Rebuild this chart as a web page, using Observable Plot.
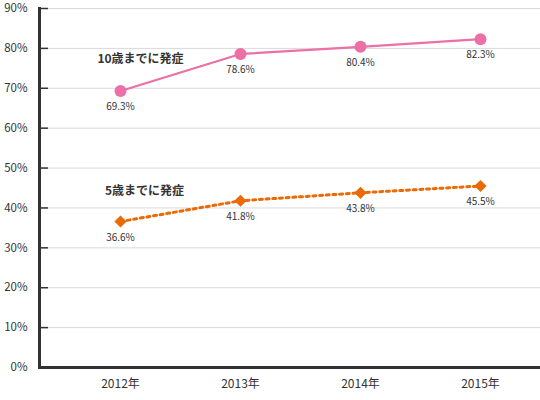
<!DOCTYPE html>
<html>
<head>
<meta charset="utf-8">
<script src="https://cdn.jsdelivr.net/npm/d3@7"></script>
<script src="https://cdn.jsdelivr.net/npm/@observablehq/plot@0.6"></script>
<style>
  body { margin: 0; background: #fff; }
  #grafico svg { display: block; }
</style>
</head>
<body>
<div id="grafico"></div>
<script>
// datos
const anios = ["2012年", "2013年", "2014年", "2015年"];
const hasta10 = [69.3, 78.6, 80.4, 82.3];
const hasta5 = [36.6, 41.8, 43.8, 45.5];
const yTicks = [0, 10, 20, 30, 40, 50, 60, 70, 80, 90];

const rosa = "#ec6fa6";
const naranja = "#ec6a05";
const fuente = "'Noto Sans CJK JP', 'Noto Sans', sans-serif";

let datos10 = anios.map((a, i) => ({anio: a, valor: hasta10[i]}));
let datos5 = anios.map((a, i) => ({anio: a, valor: hasta5[i]}));

let chart = Plot.plot({
    width: 540,
    height: 400,
    marginTop: 8,
    marginBottom: 33,
    marginLeft: 39,
    marginRight: 0,
    style: {fontFamily: fuente, fontSize: 11, color: "#333"},
    x: {type: "point", domain: anios, range: [120, 480], padding: 0, label: null},
    y: {domain: [0, 90], label: null},
    marks: [
        Plot.gridY(yTicks, {stroke: "#d9d9d9", strokeOpacity: 1, strokeWidth: 1}),
        // marcas cortas hacia adentro
        Plot.ruleY(yTicks, {stroke: "#333", strokeWidth: 1.5, insetRight: 492}),
        Plot.axisY(yTicks, {tickSize: 0, tickPadding: 12, tickFormat: d => d + "%", fontSize: 11.5, label: null}),
        Plot.frame({anchor: "left", stroke: "#333", strokeWidth: 3}),
        Plot.ruleY([0], {stroke: "#333", strokeWidth: 3}),
        Plot.axisX({tickSize: 0, tickPadding: 12, fontSize: 12, label: null}),

        // 10歳までに発症
        Plot.line(datos10, {x: "anio", y: "valor", stroke: rosa, strokeWidth: 2.2}),
        Plot.dot(datos10, {x: "anio", y: "valor", r: 6, fill: rosa}),
        Plot.text(datos10, {x: "anio", y: "valor", text: d => d.valor.toFixed(1) + "%", dy: 16, fontSize: 10, fill: "#333"}),

        // 5歳までに発症
        Plot.line(datos5, {x: "anio", y: "valor", stroke: naranja, strokeWidth: 3, strokeDasharray: "3,3.7"}),
        Plot.dot(datos5, {x: "anio", y: "valor", symbol: "diamond2", r: 5.5, fill: naranja, stroke: "none"}),
        Plot.text(datos5, {x: "anio", y: "valor", text: d => d.valor.toFixed(1) + "%", dy: 16, fontSize: 10, fill: "#333"}),

        // nombres de las series
        Plot.text(["10歳までに発症"], {x: () => anios[0], y: () => 77.3, dx: 20, text: d => d, fontSize: 12, fontWeight: "bold", fill: "#333"}),
        Plot.text(["5歳までに発症"], {x: () => anios[0], y: () => 44.3, dx: 24, text: d => d, fontSize: 12, fontWeight: "bold", fill: "#333"}),
    ],
});

d3.select('#grafico').append(() => chart);
</script>
</body>
</html>
